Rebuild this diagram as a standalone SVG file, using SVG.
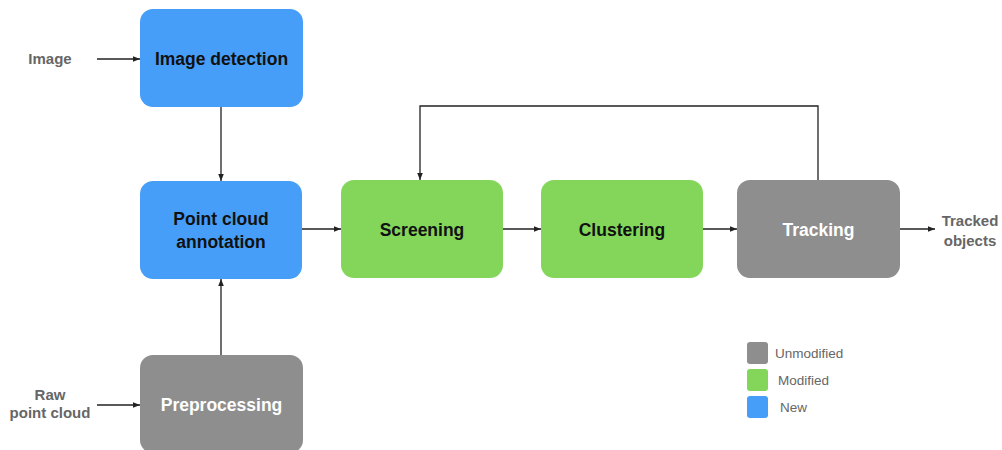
<svg xmlns="http://www.w3.org/2000/svg" width="1002" height="450" viewBox="0 0 1002 450">
<style>
.blue{fill:#479ef8}
.green{fill:#83d65a}
.gray{fill:#8e8e8e}
.nt{font-family:"Liberation Sans",Arial,sans-serif;font-weight:bold;font-size:17.5px;text-anchor:middle;fill:#111}
.wt{fill:#fff}
.lbl{font-family:"Liberation Sans",Arial,sans-serif;font-weight:bold;font-size:15px;text-anchor:middle;fill:#666}
.leg{font-family:"Liberation Sans",Arial,sans-serif;font-size:13.5px;fill:#666}
.ln{stroke:#222;stroke-width:1.3;fill:none}
</style>
<defs>
<marker id="ah" viewBox="0 0 10 10" refX="10" refY="5" markerWidth="7" markerHeight="7" markerUnits="userSpaceOnUse" orient="auto">
<path d="M0,1 L10,5 L0,9 z" fill="#222"/>
</marker>
</defs>
<rect width="1002" height="450" fill="#fff"/>
<g id="connectors">
<line class="ln" x1="97" y1="59" x2="140" y2="59" marker-end="url(#ah)"/>
<line class="ln" x1="221" y1="107" x2="221" y2="181" marker-end="url(#ah)"/>
<line class="ln" x1="221" y1="355" x2="221" y2="279" marker-end="url(#ah)"/>
<line class="ln" x1="97" y1="405" x2="140" y2="405" marker-end="url(#ah)"/>
<line class="ln" x1="302" y1="229" x2="341" y2="229" marker-end="url(#ah)"/>
<line class="ln" x1="503" y1="229" x2="541" y2="229" marker-end="url(#ah)"/>
<line class="ln" x1="703" y1="229" x2="737" y2="229" marker-end="url(#ah)"/>
<line class="ln" x1="900" y1="229" x2="935" y2="229" marker-end="url(#ah)"/>
<path class="ln" d="M818,180 V106 H420 V180" stroke="#444" marker-end="url(#ah)"/>
</g>
<g id="image-label"><text class="lbl" x="50" y="64">Image</text></g>
<g id="raw-label"><text class="lbl" x="50" y="400">Raw</text><text class="lbl" x="50" y="418">point cloud</text></g>
<g id="tracked-label"><text class="lbl" x="970" y="226">Tracked</text><text class="lbl" x="970" y="246">objects</text></g>
<g id="image-detection"><rect class="blue" x="140" y="9" width="163" height="98" rx="13"/><text class="nt" x="221.5" y="64.5">Image detection</text></g>
<g id="point-cloud-annotation"><rect class="blue" x="140" y="181" width="162" height="98" rx="13"/><text class="nt" x="221" y="225">Point cloud</text><text class="nt" x="221" y="248">annotation</text></g>
<g id="preprocessing"><rect class="gray" x="140" y="355" width="163" height="98" rx="13"/><text class="nt wt" x="221.5" y="411">Preprocessing</text></g>
<g id="screening"><rect class="green" x="341" y="180" width="162" height="98" rx="13"/><text class="nt" x="422" y="236">Screening</text></g>
<g id="clustering"><rect class="green" x="541" y="180" width="162" height="98" rx="13"/><text class="nt" x="622" y="236">Clustering</text></g>
<g id="tracking"><rect class="gray" x="737" y="180" width="163" height="98" rx="13"/><text class="nt wt" x="818.5" y="236">Tracking</text></g>
<g id="legend">
<rect class="gray" x="747" y="342" width="21" height="22" rx="3"/><text class="leg" x="775" y="358">Unmodified</text>
<rect class="green" x="747" y="369" width="21" height="22" rx="3"/><text class="leg" x="778" y="385">Modified</text>
<rect class="blue" x="747" y="396" width="21" height="22" rx="3"/><text class="leg" x="780" y="412">New</text>
</g>
</svg>
